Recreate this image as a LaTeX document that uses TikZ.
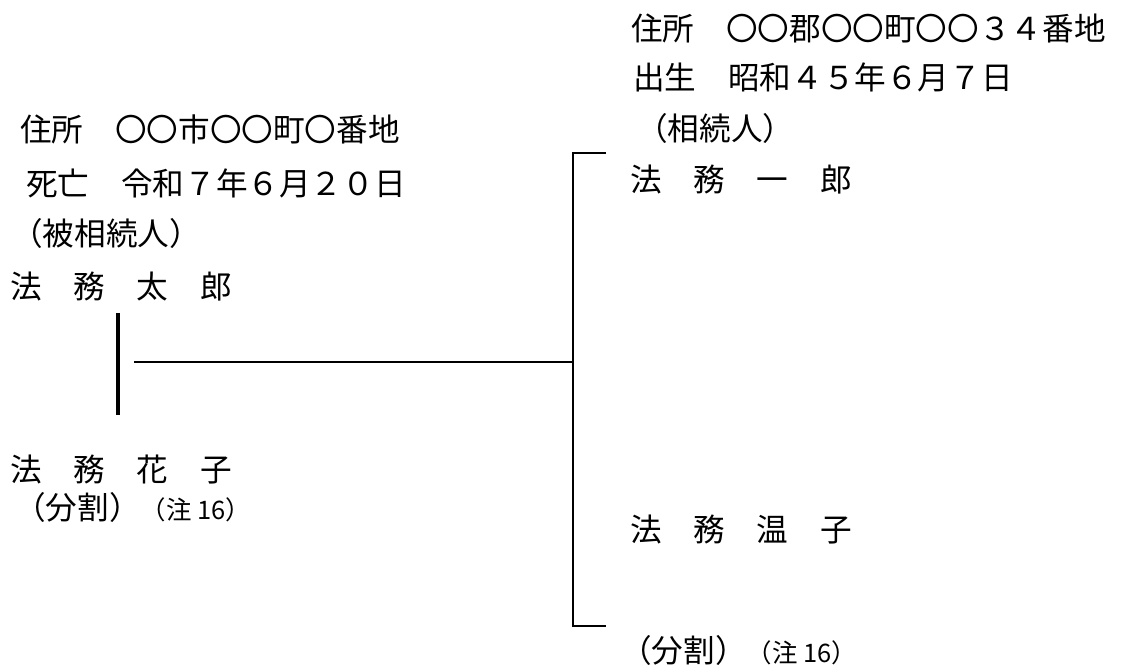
\documentclass[tikz,border=0pt]{standalone}
\usepackage{fontspec}
\setmainfont{Noto Sans CJK JP}
\usepackage{tikz}
\usetikzlibrary{calc}

\begin{document}
\begin{tikzpicture}[x=0.02cm, y=-0.02cm]
\tikzstyle{txt} = [anchor=west, inner sep=0pt, font=\fontsize{18pt}{20pt}\selectfont]
\tikzstyle{tie} = [line width=1.1pt]
\newcommand{\chu}[1]{{\fontsize{14.5pt}{16pt}\selectfont #1}}

\useasboundingbox (0,0) rectangle (1127,672);

% deceased
\node[txt] (addrL) at (20,129) {住所　〇〇市〇〇町〇番地};
\node[txt] (deathL) at (26,183) {死亡　令和７年６月２０日};
\node[txt] (roleL) at (11,233) {（被相続人）};
\node[txt] (taro) at (10,287) {法　務　太　郎};

% spouse
\node[txt] (hanako) at (10,470) {法　務　花　子};
\node[txt] (divL) at (14,507) {（分割）\chu{（注 16）}};

% heir
\node[txt] (addrR) at (631,28) {住所　〇〇郡〇〇町〇〇３４番地};
\node[txt] (birthR) at (633,77) {出生　昭和４５年６月７日};
\node[txt] (roleR) at (636,128) {（相続人）};
\node[txt] (ichiro) at (630,180) {法　務　一　郎};

\node[txt] (onko) at (630,530) {法　務　温　子};
\node[txt] (divR) at (620,650) {（分割）\chu{（注 16）}};

% tree lines
\coordinate (mar1) at (118,313);
\coordinate (mar2) at (118,415);
\draw[line width=2pt] (mar1) -- (mar2);

\coordinate (kid) at (573,362);
\draw[tie] (134,362) -- (kid);
\draw[tie] (606,153) -- (573,153) -- (573,626) -- (606,626);

\end{tikzpicture}
\end{document}
